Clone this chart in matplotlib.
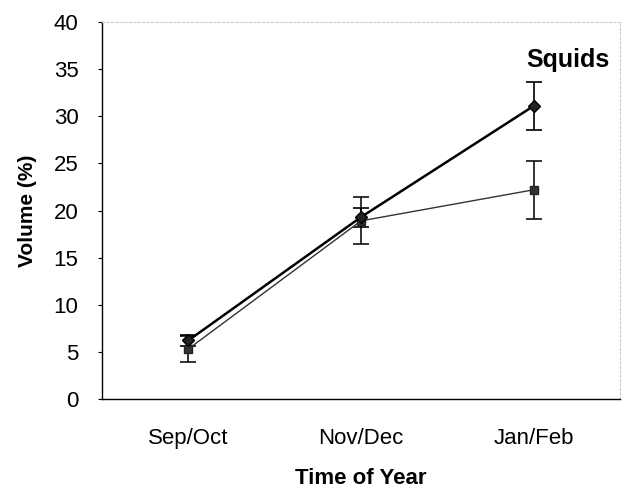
import matplotlib
matplotlib.use("Agg")
import matplotlib.pyplot as plt

plt.rcParams['font.family'] = ['Liberation Sans', 'DejaVu Sans']

# data
periods = ['Sep/Oct', 'Nov/Dec', 'Jan/Feb']
diamond_vals = [6.2, 19.3, 31.1]
diamond_err = [0.6, 1.0, 2.5]
square_vals = [5.3, 18.9, 22.2]
square_err = [1.4, 2.5, 3.1]
label = 'Squids'

x = [1, 2, 3]

fig = plt.figure(figsize=(6.3, 4.93), dpi=100)
ax = fig.add_axes([0.162, 0.191, 0.822, 0.764])

ax.errorbar(x, square_vals, yerr=square_err, color='#333333', lw=1.0,
            marker='s', ms=6, mfc='#333333', mec='#222222',
            ecolor='#111111', elinewidth=1.2, capsize=6, capthick=1.2)
ax.errorbar(x, diamond_vals, yerr=diamond_err, color='black', lw=1.8,
            marker='D', ms=6, mfc='#222222', mec='black',
            ecolor='black', elinewidth=1.2, capsize=6, capthick=1.2)

ax.set_xlim(0.5, 3.5)
ax.set_ylim(0, 40)
ax.set_yticks(range(0, 41, 5))
ax.set_xticks(x)
ax.set_xticklabels(periods)
ax.tick_params(axis='x', length=0, labelsize=16, pad=21)
ax.tick_params(axis='y', length=3, labelsize=16, pad=14)

ax.set_xlabel('Time of Year', fontsize=16, fontweight='bold', labelpad=14)
ax.set_ylabel('Volume (%)', fontsize=15, fontweight='bold', labelpad=12)

for s in ['top', 'right']:
    ax.spines[s].set_color('#cccccc')
    ax.spines[s].set_linestyle((0, (2, 2)))
    ax.spines[s].set_linewidth(0.8)
ax.spines['left'].set_linewidth(1.0)
ax.spines['bottom'].set_linewidth(1.0)

ax.text(3.2, 36.0, label, fontsize=18, fontweight='bold', ha='center', va='center')

fig.savefig('out.png', dpi=100)
